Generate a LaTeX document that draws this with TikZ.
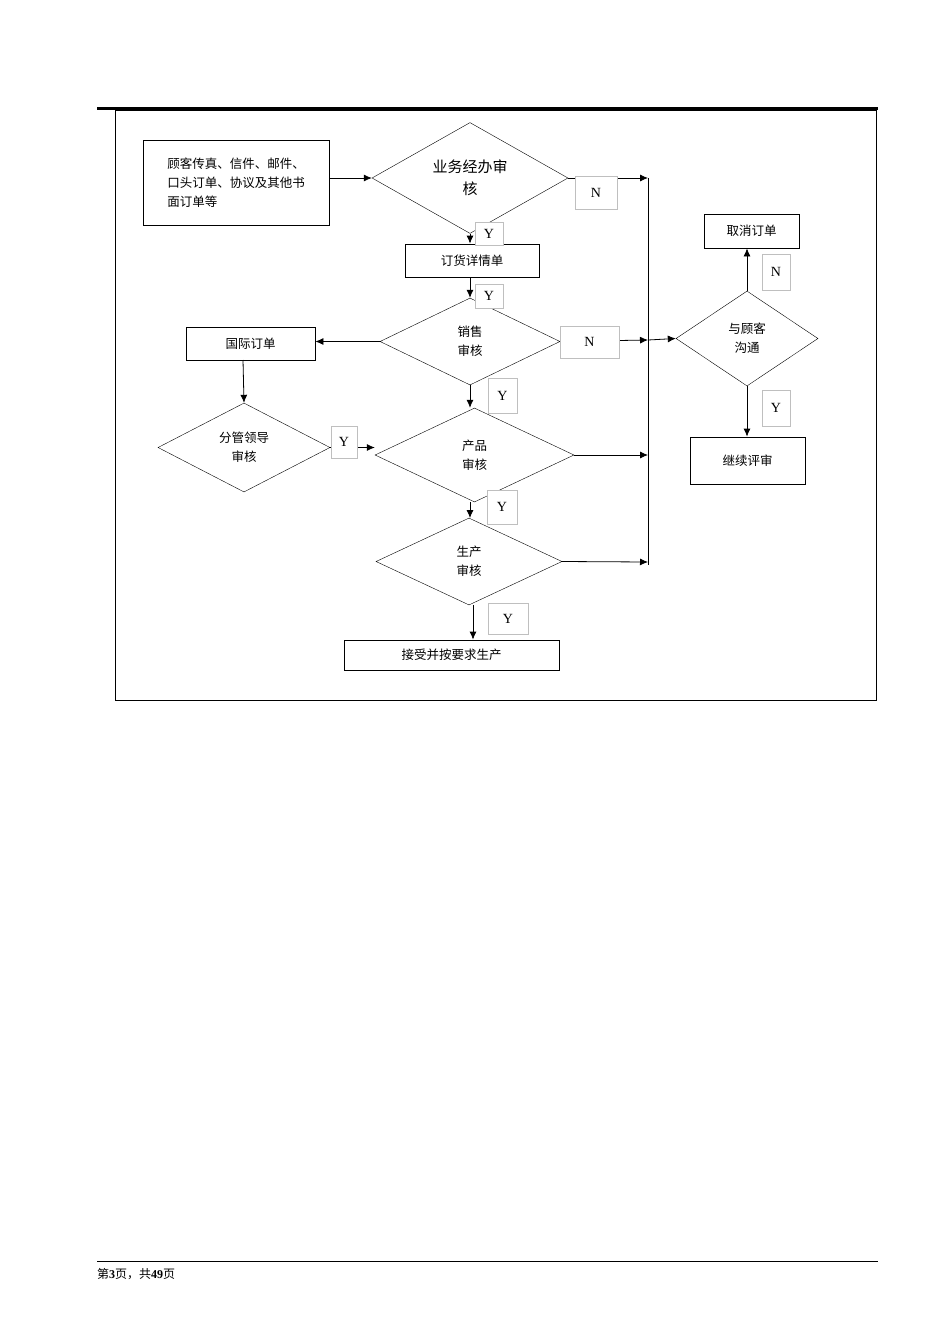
\documentclass[tikz,border=0pt]{standalone}
\usepackage{fontspec}
\setmainfont{Liberation Serif}
\newfontfamily\cjk{Noto Sans CJK SC}
\usetikzlibrary{shapes.geometric,arrows.meta}
\begin{document}
\begin{tikzpicture}[x=1pt,y=-1pt,
  txt/.style={font=\cjk\fontsize{12.5}{19}\selectfont,align=center},
  box/.style={draw,thick,inner sep=0pt},
  dia/.style={draw,diamond,inner sep=0pt},
  lab/.style={draw=black!25,font=\fontsize{14}{16}\selectfont,inner sep=0pt,fill=white},
  arr/.style={thick,-{Latex[length=8pt,width=7pt]}},
  ln/.style={thick}]
\useasboundingbox (0,0) rectangle (950,1344);
\draw[line width=3pt] (97,108) -- (878,108);
\draw (115,110) rectangle (876,700);
% boxes
\node[box,minimum width=186,minimum height=85,txt,align=left] (b1) at (236,182.5) {顾客传真、信件、邮件、\\口头订单、协议及其他书\\面订单等};
\node[dia,minimum width=196,minimum height=100,txt,font=\cjk\fontsize{15}{22}\selectfont] (d1) at (470,178) {业务经办审\\核};
\node[box,minimum width=134,minimum height=33,txt] (b2) at (472,260.5) {订货详情单};
\node[dia,minimum width=180,minimum height=87,txt] (d2) at (470,341.5) {销售\\审核};
\node[box,minimum width=129,minimum height=33,txt] (b3) at (250.5,343.5) {国际订单};
\node[dia,minimum width=172,minimum height=89,txt] (d3) at (244,447.5) {分管领导\\审核};
\node[dia,minimum width=199,minimum height=94,txt] (d4) at (474.5,455) {产品\\审核};
\node[dia,minimum width=186,minimum height=87,txt] (d5) at (469,561.5) {生产\\审核};
\node[box,minimum width=215,minimum height=30,txt] (b4) at (451.5,655) {接受并按要求生产};
\node[dia,minimum width=142,minimum height=95,txt] (d6) at (747,338.5) {与顾客\\沟通};
\node[box,minimum width=95,minimum height=34,txt] (b5) at (751.5,231) {取消订单};
\node[box,minimum width=115,minimum height=47,txt] (b6) at (747.5,460.5) {继续评审};
% right collector line
\coordinate (t1) at (648,178);
\coordinate (t2) at (648,340);
\coordinate (t3) at (648,455);
\coordinate (t4) at (648,562);
\draw[ln] (t1) -- (648,565);
% connectors
\draw[arr] (b1.east |- d1.west) -- (d1.west);
\draw[arr] (d1.east) -- (t1);
\draw[arr] (d1.south) -- (d1.south |- b2.north);
\draw[arr] (b2.south -| d2.north) -- (d2.north);
\draw[arr] (d2.west) -- (d2.west -| b3.east);
\draw[arr] (d2.east) -- (t2);
\draw[arr] (t2) -- (d6.west);
\draw[arr] (d6.north) -- (d6.north |- b5.south);
\draw[arr] (d6.south) -- (d6.south |- b6.north);
\coordinate (g1) at (243,360);
\draw[arr] (g1) -- (d3.north);
\draw[arr] (d3.east) -- (d3.east -| d4.west);
\draw[arr] (d2.south) -- (d2.south |- d4.north);
\draw[arr] (d4.east) -- (t3);
\coordinate (p1) at (470,502);
\draw[arr] (p1) -- (470,518);
\draw[arr] (d5.east) -- (t4);
\coordinate (s1) at (473,605);
\draw[arr] (s1) -- (s1 |- b4.north);
% labels
\node[lab,minimum width=42,minimum height=33] (n1) at (596,192.5) {N};
\node[lab,minimum width=28,minimum height=23] (y1) at (489,233.5) {Y};
\node[lab,minimum width=28,minimum height=24] (y2) at (489,296) {Y};
\node[lab,minimum width=59,minimum height=32] (n2) at (589.5,342) {N};
\node[lab,minimum width=29,minimum height=35] (y3) at (502.5,395.5) {Y};
\node[lab,minimum width=26,minimum height=32] (y4) at (344,442) {Y};
\node[lab,minimum width=30,minimum height=34] (y5) at (502,507) {Y};
\node[lab,minimum width=40,minimum height=31] (y6) at (508,618.5) {Y};
\node[lab,minimum width=28,minimum height=36] (n3) at (776,272) {N};
\node[lab,minimum width=28,minimum height=36] (y7) at (776,408) {Y};
% footer
\draw[thin] (97,1261) -- (878,1261);
\node[anchor=west,inner sep=0pt,font=\fontsize{12}{14}\selectfont] (ft) at (97,1274) {{\cjk 第}{\bfseries 3}{\cjk 页，共}{\bfseries 49}{\cjk 页}};
\end{tikzpicture}
\end{document}
